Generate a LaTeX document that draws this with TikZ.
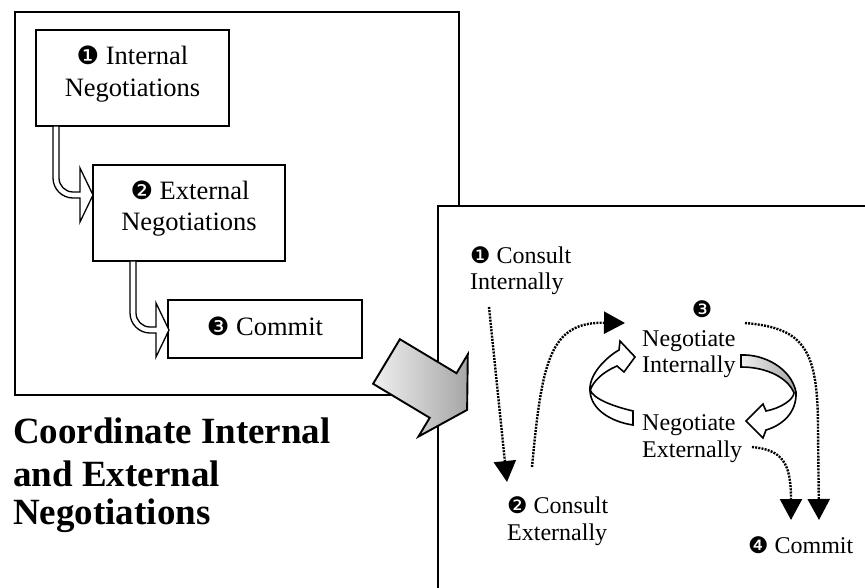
\documentclass[tikz,border=0pt]{standalone}
\usepackage{fontspec}
\setmainfont{Liberation Serif}
\newfontfamily\dv{DejaVu Sans}[Scale=0.95]
\usetikzlibrary{arrows.meta,calc}
\begin{document}
\begin{tikzpicture}[x=1pt,y=-1pt,
  frame/.style={line width=1.9pt},
  boxnode/.style={draw, line width=1.5pt, fill=white, inner sep=0pt},
  lt/.style={font=\fontsize{26.5}{30}\selectfont, inner sep=0pt, anchor=base},
  rt/.style={font=\fontsize{24}{27}\selectfont, inner sep=0pt, anchor=base west},
  ttl/.style={font=\fontsize{37}{40}\selectfont\bfseries, inner sep=0pt, anchor=base west},
  hollow/.style={draw, fill=white, line width=1.3pt, line join=miter},
  ribbon/.style={draw, fill=white, line width=1.6pt, line join=miter},
  dotl/.style={line width=2.4pt, dash pattern=on 2pt off 1.2pt,
    -{Triangle[length=21pt,width=22pt]}},
  shadeg/.style={left color=gray!12, right color=gray!70}
]
\useasboundingbox (0,0) rectangle (865,588);

% left frame
\draw[frame] (15,12) rectangle (459,395);

% boxes
\node[boxnode, minimum width=193pt, minimum height=96pt] (b1) at (132.5,78) {};
\node[boxnode, minimum width=192pt, minimum height=96pt] (b2) at (189,213) {};
\node[boxnode, minimum width=194pt, minimum height=58pt] (b3) at (265,329) {};

% hollow arrows
\draw[hollow] (53,126) -- (53,178) .. controls (53,189) and (62,198) .. (73,198)
  -- (80,198) -- (80,222) -- (93,195) -- (80,168) -- (80,192) -- (73,192)
  .. controls (65.3,192) and (59,185.7) .. (59,178) -- (59,126) -- cycle;
\draw[hollow] (130,261) -- (130,313) .. controls (130,324) and (139,333) .. (150,333)
  -- (156,333) -- (156,357) -- (169,330) -- (156,303) -- (156,327) -- (150,327)
  .. controls (142.3,327) and (136,320.7) .. (136,313) -- (136,261) -- cycle;

% box texts
\node[lt] (t1a) at (132.5,65) {{\dv ❶} Internal};
\node[lt] (t1b) at (132.5,97) {Negotiations};
\node[lt] (t2a) at (190,200) {{\dv ❷} External};
\node[lt] (t2b) at (189,231) {Negotiations};
\node[lt] (t3a) at (265,335) {{\dv ❸} Commit};

% right frame
\fill[white] (438,206) rectangle (866,590);
\draw[frame] (438,590) -- (438,206) -- (866,206);

% title
\node[ttl] (h1) at (13,443) {Coordinate Internal};
\node[ttl] (h2) at (13,486) {and External};
\node[ttl] (h3) at (13,524) {Negotiations};

% big arrow
\draw[line width=1.9pt, line join=miter, shadeg]
  (399.9,339.2) -- (456.5,373.2) -- (467.8,354.4) -- (467.1,409.9)
  -- (418.4,436.6) -- (429.7,417.8) -- (373.1,383.8) -- cycle;

% right box texts
\node[rt] (ci1) at (470,263) {{\dv ❶} Consult};
\node[rt] (ci2) at (470,290) {Internally};
\node[rt] (ce1) at (507,513) {{\dv ❷} Consult};
\node[rt] (ce2) at (507,540) {Externally};
\node[rt, anchor=base] (n3) at (702,317) {\dv ❸};
\node[rt] (ni1) at (642,346) {Negotiate};
\node[rt] (ni2) at (642,372) {Internally};
\node[rt] (ne1) at (642,430) {Negotiate};
\node[rt] (ne2) at (642,457) {Externally};
\node[rt] (cm) at (748,553) {{\dv ❹} Commit};

% dotted connectors
\coordinate (d1s) at (489,307);
\coordinate (d1e) at (507,482);
\coordinate (d2s) at (532,467);
\coordinate (d2e) at (625,323);
\coordinate (d3s) at (745,323);
\coordinate (d3e) at (819,520);
\coordinate (d4s) at (752,447);
\coordinate (d4e) at (791,520);
\draw[dotl] (d1s) -- (d1e);
\draw[dotl] (d2s) .. controls (542,360) and (550,322) .. (d2e);
\draw[dotl] (d3s) .. controls (805,328) and (818,350) .. (818,430) -- (d3e);
\draw[dotl] (d4s) .. controls (782,450) and (791,462) .. (d4e);

% circular arrows
\draw[ribbon] (633,411) .. controls (612,406) and (594,399) .. (590,390)
  .. controls (589,375) and (605,358) .. (619,350) -- (620,341) -- (635,357)
  -- (624,372) -- (617,366) .. controls (603,372) and (593,381) .. (590,391)
  .. controls (591,410) and (612,422) .. (633,425) -- cycle;
\fill[shadeg] (741,355) .. controls (764,354) and (791,368) .. (796,392)
  -- (794,393) .. controls (788,378) and (767,367) .. (741,367) -- cycle;
\draw[line width=1.6pt, line join=miter] (741,355) .. controls (764,354) and (791,368) .. (796,392)
  .. controls (797,412) and (783,425) .. (766,430) -- (763,438) -- (746,421)
  -- (763,404) -- (766,411) .. controls (781,408) and (793,400) .. (794,393)
  .. controls (788,378) and (767,367) .. (741,367) -- cycle;
\end{tikzpicture}
\end{document}
